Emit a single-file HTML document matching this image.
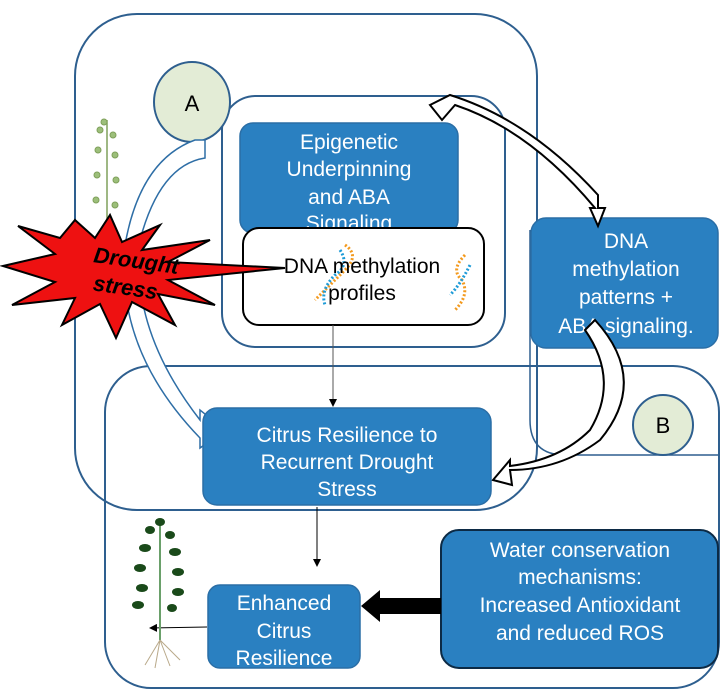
<!DOCTYPE html>
<html><head><meta charset="utf-8"><style>
body{margin:0;background:#fff}
svg{display:block}
text{font-family:"Liberation Sans",sans-serif}
</style></head><body>
<svg width="725" height="694" viewBox="0 0 725 694" xmlns="http://www.w3.org/2000/svg">
<defs>
<marker id="ah" markerWidth="8" markerHeight="8" refX="7" refY="4" orient="auto"><path d="M0,0 L8,4 L0,8 z" fill="#000"/></marker>
</defs>
<rect x="75" y="14" width="462" height="496" rx="62" fill="none" stroke="#2e5f8f" stroke-width="2"/>
<rect x="105" y="366" width="614" height="322" rx="46" fill="none" stroke="#2e5f8f" stroke-width="2"/>
<path d="M530,230 L530,420 Q530,455 565,455 L718,455" fill="none" stroke="#2e5f8f" stroke-width="1.5"/>
<rect x="222" y="96" width="283" height="251" rx="34" fill="none" stroke="#2e5f8f" stroke-width="2"/>
<ellipse cx="192" cy="102" rx="38" ry="40" fill="#e3ecd6" stroke="#2e5f8f" stroke-width="2"/>
<text x="192" y="111" font-size="22" text-anchor="middle">A</text>
<path d="M205,140 L205,158 Q160,165 140,240 Q130,330 200,420 L200,410 L225,430 L200,448 L200,438 Q115,350 125,245 Q140,160 195,140 Z" fill="#fff" stroke="#2e6ea6" stroke-width="1.5"/>
<g stroke="#7fa05a" fill="#9cbf7a">
<line x1="107" y1="120" x2="107" y2="230" stroke-width="1.5"/>
<circle cx="100" cy="130" r="3"/><circle cx="113" cy="135" r="3"/><circle cx="98" cy="150" r="3"/><circle cx="115" cy="155" r="3"/><circle cx="97" cy="175" r="3"/><circle cx="116" cy="180" r="3"/><circle cx="96" cy="200" r="3"/><circle cx="115" cy="205" r="3"/><circle cx="104" cy="122" r="3"/>
</g>
<rect x="240" y="123" width="218" height="110" rx="13" fill="#2a80c1" stroke="#2a6ea6" stroke-width="1.5"/>
<text fill="#fff" font-size="21" text-anchor="middle"><tspan x="349" y="149">Epigenetic</tspan><tspan x="349" y="176">Underpinning</tspan><tspan x="349" y="204">and ABA</tspan><tspan x="349" y="230">Signaling</tspan></text>
<rect x="243" y="228" width="241" height="97" rx="16" fill="#fff" stroke="#000" stroke-width="2"/>
<path d="M345,245 Q360,255 345,270 Q330,285 315,300" fill="none" stroke="#f39a1e" stroke-width="3" stroke-dasharray="2 2"/>
<path d="M340,250 Q350,265 335,275 Q320,290 325,305" fill="none" stroke="#1e9bd7" stroke-width="3" stroke-dasharray="2 2"/>
<path d="M465,255 Q450,270 462,280 Q470,295 455,310" fill="none" stroke="#f39a1e" stroke-width="3" stroke-dasharray="2 2"/>
<path d="M470,265 Q460,285 450,295" fill="none" stroke="#1e9bd7" stroke-width="3" stroke-dasharray="2 2"/>
<text fill="#000" font-size="21" text-anchor="middle"><tspan x="362" y="273">DNA methylation</tspan><tspan x="362" y="300">profiles</tspan></text>
<polygon points="75,220 95,238 110,215 122,242 160,225 142,250 210,240 168,262 285,268 168,280 215,305 158,294 175,325 132,302 116,338 100,304 62,325 75,298 12,305 55,282 3,266 55,254 18,226 60,238" fill="#ee1111" stroke="#000" stroke-width="2"/>
<text font-size="22" font-weight="bold" font-style="italic" fill="#000" text-anchor="middle" transform="rotate(8 135 270)"><tspan x="135" y="268">Drought</tspan><tspan x="128" y="296">stress</tspan></text>
<rect x="531" y="218" width="187" height="130" rx="15" fill="#2a80c1" stroke="#2a6ea6" stroke-width="1.5"/>
<text fill="#fff" font-size="21" text-anchor="middle"><tspan x="626" y="248">DNA</tspan><tspan x="626" y="276">methylation</tspan><tspan x="626" y="304">patterns +</tspan><tspan x="626" y="333">ABA signaling.</tspan></text>
<path d="M430,105 L450,95 Q530,120 598,195 L598,208 L605,208 L598,226 L590,208 L595,208 Q530,130 455,105 L442,120 Z" fill="#fff" stroke="#000" stroke-width="2"/>
<path d="M585,330 L595,320 Q650,380 600,440 Q560,470 510,470 L512,485 L493,480 L510,460 L510,466 Q560,460 590,430 Q620,380 585,330 Z" fill="#fff" stroke="#000" stroke-width="2"/>
<circle cx="663" cy="425" r="30" fill="#e3ecd6" stroke="#2e5f8f" stroke-width="2"/>
<text x="663" y="433" font-size="22" text-anchor="middle">B</text>
<line x1="333" y1="325" x2="333" y2="406" stroke="#555" stroke-width="1" marker-end="url(#ah)"/>
<line x1="317" y1="507" x2="317" y2="566" stroke="#000" stroke-width="1" marker-end="url(#ah)"/>
<line x1="207" y1="627" x2="150" y2="628" stroke="#000" stroke-width="1" marker-end="url(#ah)"/>
<rect x="203" y="408" width="288" height="97" rx="14" fill="#2a80c1" stroke="#2a6ea6" stroke-width="1.5"/>
<text fill="#fff" font-size="21" text-anchor="middle"><tspan x="347" y="442">Citrus Resilience to</tspan><tspan x="347" y="469">Recurrent Drought</tspan><tspan x="347" y="496">Stress</tspan></text>
<rect x="208" y="585" width="152" height="83" rx="12" fill="#2a80c1" stroke="#2a6ea6" stroke-width="1.5"/>
<text fill="#fff" font-size="21" text-anchor="middle"><tspan x="284" y="610">Enhanced</tspan><tspan x="284" y="638">Citrus</tspan><tspan x="284" y="665">Resilience</tspan></text>
<rect x="441" y="530" width="277" height="138" rx="18" fill="#2a80c1" stroke="#0c2a45" stroke-width="2"/>
<text fill="#fff" font-size="21" text-anchor="middle"><tspan x="580" y="557">Water conservation</tspan><tspan x="580" y="584">mechanisms:</tspan><tspan x="580" y="612">Increased Antioxidant</tspan><tspan x="580" y="640">and reduced ROS</tspan></text>
<polygon points="441,598 380,598 380,590 361,606 380,622 380,614 441,614" fill="#000"/>
<g fill="#1a4a1a">
<line x1="160" y1="525" x2="160" y2="640" stroke="#6aa06a" stroke-width="2"/>
<ellipse cx="150" cy="530" rx="5" ry="4"/><ellipse cx="170" cy="535" rx="5" ry="4"/><ellipse cx="145" cy="548" rx="6" ry="4"/><ellipse cx="175" cy="552" rx="6" ry="4"/><ellipse cx="140" cy="568" rx="6" ry="4"/><ellipse cx="178" cy="572" rx="6" ry="4"/><ellipse cx="142" cy="588" rx="6" ry="4"/><ellipse cx="178" cy="592" rx="6" ry="4"/><ellipse cx="138" cy="605" rx="6" ry="4"/><ellipse cx="172" cy="608" rx="5" ry="4"/><ellipse cx="160" cy="522" rx="5" ry="4"/>
</g>
<path d="M160,640 L145,665 M160,640 L155,668 M160,640 L170,666 M160,640 L180,660" stroke="#b9a98a" stroke-width="1" fill="none"/>
</svg>
</body></html>
